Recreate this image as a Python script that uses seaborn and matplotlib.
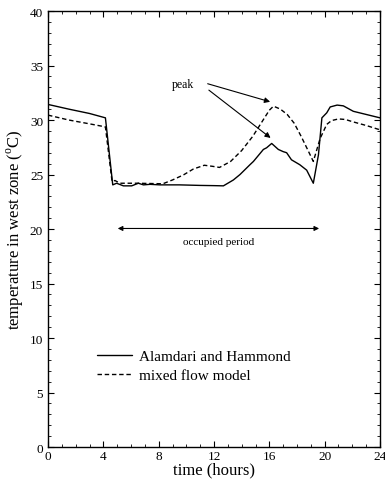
import numpy as np
import pandas as pd
import matplotlib
matplotlib.use("Agg")
import matplotlib.pyplot as plt
from matplotlib.ticker import MultipleLocator
import seaborn as sns

# Alamdari and Hammond (solid)
ah_time = [0.0, 1.5, 3.0, 4.15, 4.68, 4.96, 5.45, 6.05, 6.53, 6.9, 7.37, 8.1, 9.5,
           11.0, 12.0, 12.68, 13.4, 13.88, 14.6, 14.85, 15.57, 15.8, 16.17, 16.65,
           17.0, 17.25, 17.6, 18.2, 18.7, 19.18, 19.55, 19.8, 20.15, 20.4, 20.9,
           21.35, 22.07, 24.0]
ah_temp = [31.43, 31.0, 30.6, 30.2, 24.05, 24.2, 23.96, 23.96, 24.2, 24.05, 24.1,
           24.05, 24.05, 24.0, 23.98, 23.96, 24.5, 25.0, 25.9, 26.2, 27.3, 27.45,
           27.85, 27.3, 27.1, 27.0, 26.35, 25.9, 25.4, 24.2, 26.8, 30.2, 30.66,
           31.2, 31.37, 31.3, 30.8, 30.2]

# mixed flow model (dashed)
mf_time = [0.0, 1.5, 3.0, 4.15, 4.63, 4.84, 5.2, 6.5, 8.3, 9.0, 9.8, 10.5, 11.3,
           11.9, 12.4, 13.2, 14.0, 14.8, 15.5, 16.0, 16.3, 16.8, 17.3, 17.8, 18.3,
           18.8, 19.18, 19.67, 20.15, 20.5, 21.0, 21.5, 22.0, 23.0, 24.0]
mf_temp = [30.45, 30.0, 29.65, 29.37, 24.36, 24.45, 24.2, 24.2, 24.15, 24.5, 24.97,
           25.5, 25.85, 25.75, 25.65, 26.2, 27.2, 28.5, 29.9, 30.9, 31.27, 31.0,
           30.5, 29.7, 28.5, 27.2, 26.2, 28.3, 29.6, 29.95, 30.1, 30.05, 29.85,
           29.5, 29.1]

df_ah = pd.DataFrame({"time": ah_time, "temp": ah_temp})
df_mf = pd.DataFrame({"time": mf_time, "temp": mf_temp})

sns.set_style("ticks")
plt.rcParams["font.family"] = ["Liberation Serif", "DejaVu Serif"]
plt.rcParams["mathtext.fontset"] = "custom"
plt.rcParams["mathtext.rm"] = "Liberation Serif"
plt.rcParams["text.color"] = "black"
plt.rcParams["axes.labelcolor"] = "black"

fig = plt.figure(figsize=(3.85, 4.81), dpi=100)
ax = fig.add_axes([0.1247, 0.0686, 0.8623, 0.9064])

sns.lineplot(data=df_ah, x="time", y="temp", ax=ax, color="black", lw=1.0,
             label="Alamdari and Hammond", sort=False)
sns.lineplot(data=df_mf, x="time", y="temp", ax=ax, color="black", lw=1.0,
             linestyle=(0, (3.2, 2)), label="mixed flow model", sort=False)

ax.set_xlim(0, 24)
ax.set_ylim(0, 40)
ax.xaxis.set_major_locator(MultipleLocator(4))
ax.xaxis.set_minor_locator(MultipleLocator(1))
ax.yaxis.set_major_locator(MultipleLocator(5))
ax.yaxis.set_minor_locator(MultipleLocator(1))
ax.tick_params(which="both", direction="in", top=True, right=True, colors="black",
               labelsize=9.5)
ax.tick_params(which="major", length=4, width=0.8)
ax.tick_params(which="minor", length=2, width=0.6)
ax.tick_params(axis="x", pad=2)
for s in ax.spines.values():
    s.set_linewidth(1.0)
    s.set_color("black")

ax.set_xlabel("time (hours)", fontsize=12, labelpad=0)
ax.set_ylabel(r"temperature in west zone ($^{\rm o}$C)", fontsize=12, labelpad=3)

# peak annotations
ax.text(9.74, 33.27, "peak", fontsize=8.5, ha="center", va="center")
arrow = dict(arrowstyle="-|>", color="black", lw=0.8, mutation_scale=8)
ax.annotate("", xy=(16.25, 31.6), xytext=(11.35, 33.4), arrowprops=arrow)
ax.annotate("", xy=(16.25, 28.2), xytext=(11.47, 32.9), arrowprops=arrow)

# occupied period
ax.annotate("", xy=(4.84, 20.05), xytext=(19.8, 20.05),
            arrowprops=dict(arrowstyle="<|-|>", color="black", lw=0.8, mutation_scale=7))
ax.text(12.3, 18.9, "occupied period", fontsize=8, ha="center", va="center")

ax.legend(loc="center left", bbox_to_anchor=(0.1467, 0.1865), frameon=False,
          fontsize=11, handlelength=2.3, handletextpad=0.5, labelspacing=0.35,
          borderpad=0, borderaxespad=0, labelcolor="black")

fig.savefig("out.png", dpi=100)
